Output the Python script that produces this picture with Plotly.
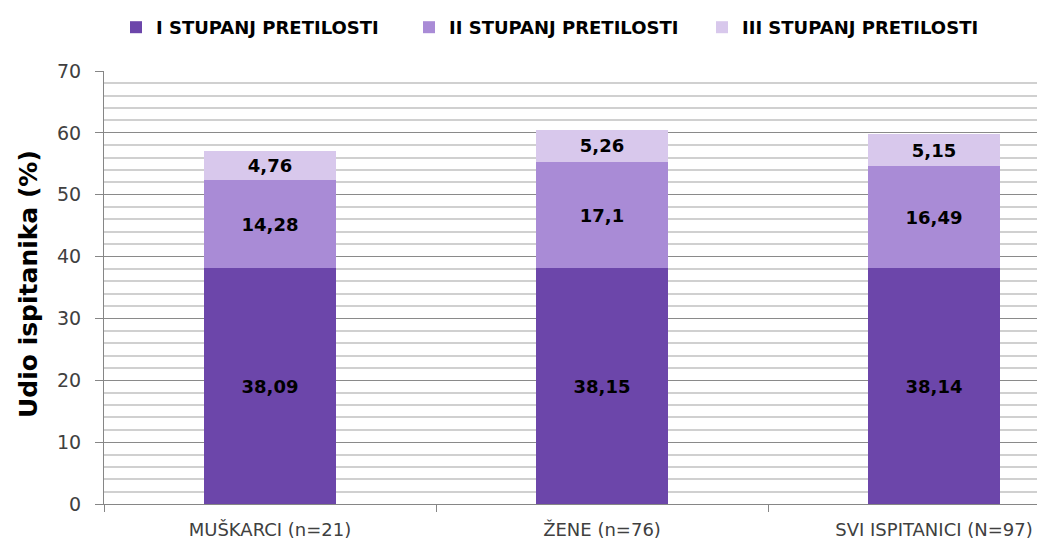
import plotly.graph_objects as go

categories = ["MUŠKARCI (n=21)", "ŽENE (n=76)", "SVI ISPITANICI (N=97)"]
series_names = ["I STUPANJ PRETILOSTI", "II STUPANJ PRETILOSTI", "III STUPANJ PRETILOSTI"]
stupanj_1 = [38.09, 38.15, 38.14]
stupanj_2 = [14.28, 17.1, 16.49]
stupanj_3 = [4.76, 5.26, 5.15]
colors = ["#6c46aa", "#a98bd6", "#d8c8ec"]
y_title = "Udio ispitanika (%)"

def fmt(v):
    return str(v).replace(".", ",")

# page is offset by the 8px default body margin
W, H = 1037, 534
PL, PT, PB = 96, 63, 38
PW = W - PL
PH = H - PT - PB

fig = go.Figure()
for name, vals, col in zip(series_names, [stupanj_1, stupanj_2, stupanj_3], colors):
    fig.add_trace(go.Bar(
        x=categories, y=vals, name=name,
        marker=dict(color=col, line=dict(width=0)),
        text=[fmt(v) for v in vals],
        textposition="inside", insidetextanchor="middle", textangle=0,
        textfont=dict(family="DejaVu Sans", size=18, color="#000000", weight="bold"),
    ))

fig.update_layout(
    barmode="stack",
    bargap=0.6,
    width=W, height=H,
    margin=dict(l=PL, r=0, t=PT, b=PB, autoexpand=False),
    paper_bgcolor="white", plot_bgcolor="white",
    font=dict(family="DejaVu Sans", color="#404040"),
    showlegend=True,
    legend=dict(
        orientation="h", xref="container", x=108 / W, xanchor="left",
        yref="container", y=1 - 19.5 / H, yanchor="middle",
        font=dict(family="DejaVu Sans", size=18, color="#000000", weight="bold"),
        entrywidth=248, itemsizing="constant", traceorder="normal",
        bgcolor="rgba(0,0,0,0)",
    ),
    xaxis=dict(
        range=[-0.5, -0.5 + PW / 332],
        showline=True, linecolor="#868686", linewidth=1,
        ticks="outside", tickson="boundaries", ticklen=7, tickcolor="#868686",
        tickfont=dict(family="DejaVu Sans", size=18, color="#404040"),
        ticklabelstandoff=9,
        showgrid=False, automargin=False,
    ),
    yaxis=dict(
        range=[0, 70], dtick=10,
        showline=True, linecolor="#868686", linewidth=1,
        ticks="outside", ticklen=8, tickcolor="#868686",
        tickfont=dict(family="DejaVu Sans", size=19, color="#404040"),
        ticklabelstandoff=10,
        showgrid=True, gridcolor="#8a8a8a", gridwidth=1,
        minor=dict(dtick=2, showgrid=True, gridcolor="#d0d0d0", gridwidth=1.5),
        zeroline=False, automargin=False,
    ),
    annotations=[dict(
        text=y_title, textangle=-90,
        xref="paper", x=(28 - 104) / PW, xanchor="center",
        yref="paper", y=(504 - 284) / PH, yanchor="middle",
        showarrow=False,
        font=dict(family="DejaVu Sans", size=25, color="#000000", weight="bold"),
    )],
)

fig.write_html("out.html")
